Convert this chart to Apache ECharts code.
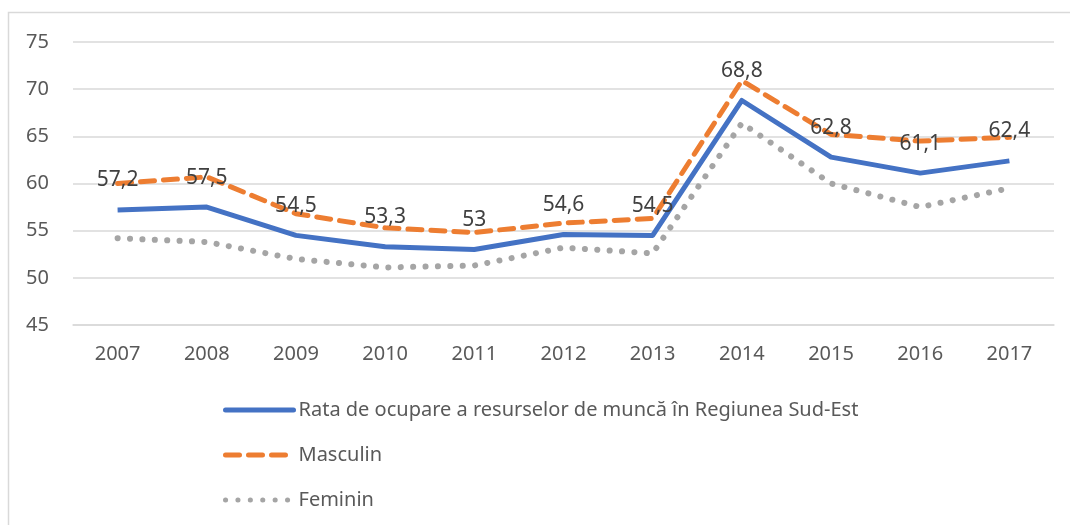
<!DOCTYPE html>
<html>
<head>
<meta charset="utf-8">
<script src="https://cdn.jsdelivr.net/npm/echarts@6/dist/echarts.min.js"></script>
<style>
html,body{margin:0;padding:0;background:#fff;}
#chart{width:1070px;height:525px;}
</style>
</head>
<body>
<div id="chart"></div>
<script>
const years = ['2007','2008','2009','2010','2011','2012','2013','2014','2015','2016','2017'];
const total = [57.2, 57.5, 54.5, 53.3, 53, 54.6, 54.5, 68.8, 62.8, 61.1, 62.4];
const masculin = [60.0, 60.7, 56.8, 55.3, 54.8, 55.8, 56.3, 70.9, 65.2, 64.5, 64.9];
const feminin = [54.2, 53.8, 52.0, 51.1, 51.3, 53.2, 52.6, 66.4, 60.0, 57.5, 59.5];
const seriesNames = ['Rata de ocupare a resurselor de muncă în Regiunea Sud-Est', 'Masculin', 'Feminin'];
const yTicks = {min: 45, max: 75, interval: 5};

const FONT = 'Noto Sans';
const TXT = '#595959';
const chart = echarts.init(document.getElementById('chart'));
chart.setOption({
  animation: false,
  backgroundColor: '#fff',
  textStyle: {fontFamily: FONT},
  graphic: [{
    type: 'rect', silent: true, z: -1,
    shape: {x: 8.5, y: 12.5, width: 1200, height: 700},
    style: {fill: 'none', stroke: '#d9d9d9', lineWidth: 1.5}
  }],
  grid: {left: 73, right: 16, top: 42, height: 283},
  legend: {
    orient: 'vertical', left: 218, top: 393,
    itemWidth: 68, itemHeight: 14, itemGap: 21,
    itemStyle: {opacity: 0},
    lineStyle: {width: 5, cap: 'round'},
    textStyle: {color: TXT, fontSize: 20, fontFamily: FONT, lineHeight: 24},
    data: seriesNames
  },
  xAxis: {
    type: 'category', data: years, boundaryGap: true,
    axisLine: {show: true, lineStyle: {color: '#d9d9d9', width: 1.5}},
    axisTick: {show: false},
    axisLabel: {color: TXT, fontSize: 20, fontFamily: FONT, margin: 19}
  },
  yAxis: {
    type: 'value', min: yTicks.min, max: yTicks.max, interval: yTicks.interval,
    axisLine: {show: false}, axisTick: {show: false},
    axisLabel: {color: TXT, fontSize: 20, fontFamily: FONT, margin: 24},
    splitLine: {lineStyle: {color: '#d9d9d9', width: 1.5}}
  },
  series: [
    {
      name: seriesNames[1], type: 'line', data: masculin, symbol: 'none', z: 3,
      itemStyle: {color: '#ED7D31'},
      lineStyle: {color: '#ED7D31', width: 5, type: [14, 9], cap: 'round', join: 'round'}
    },
    {
      name: seriesNames[2], type: 'line', data: feminin, symbol: 'none', z: 2,
      itemStyle: {color: '#A5A5A5'},
      lineStyle: {color: '#A5A5A5', width: 6, type: [0.1, 12.3], cap: 'round', join: 'round'}
    },
    {
      name: seriesNames[0], type: 'line', data: total, symbol: 'circle', symbolSize: 0.1, showSymbol: true, z: 4,
      itemStyle: {color: '#4472C4'},
      lineStyle: {color: '#4472C4', width: 5, join: 'round'},
      label: {
        show: true, position: 'top', distance: 19,
        color: '#404040', fontSize: 21, fontFamily: FONT,
        formatter: p => String(p.value).replace('.', ',')
      },
      labelLayout: {hideOverlap: false}
    }
  ]
});
</script>
</body>
</html>
